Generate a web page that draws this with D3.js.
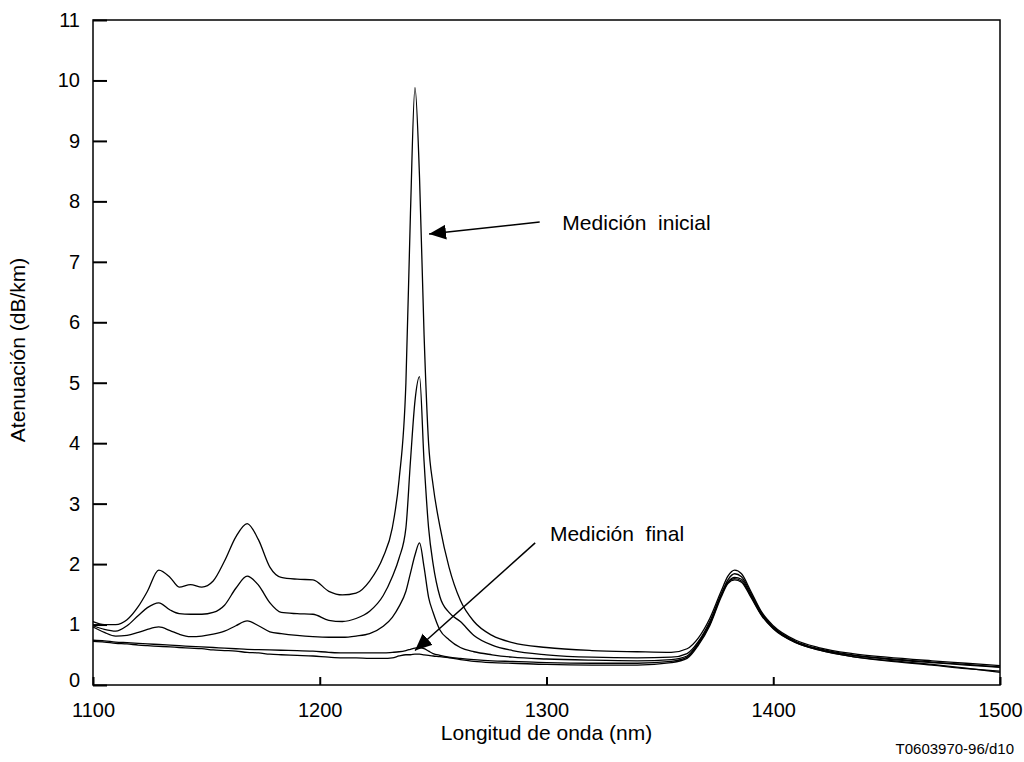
<!DOCTYPE html>
<html lang="es">
<head>
<meta charset="UTF-8"/>
<title>Atenuación vs longitud de onda</title>
<script src="https://d3js.org/d3.v7.min.js"></script>
<style>
	body { margin: 0; background: #fff; }
	text { font-family: "Liberation Sans", Arial, sans-serif; fill: #000; }
</style>
</head>
<body>
<script>
	// Wavelength grid shared by all five measurement curves (nm)
	var wavelengths = [1100,1105,1110,1115,1120,1124,1129,1134,1138,1143,1148,1153,1158,1163,1168,1173,1178,1183,1190,1197,
		1204,1210,1216,1222,1228,1232,1235,1238,1240,1242,1244,1246,1248,1250,1253,1257,1262,1268,1276,1285,
		1300,1320,1340,1355,1362,1367,1372,1377,1380,1383,1386,1390,1395,1400,1410,1420,1435,1450,1470,1485,1500];

	// Attenuation values (dB/km), from first measurement down to final one
	var curve1 = [1.05,1.00,1.00,1.08,1.30,1.55,1.90,1.78,1.62,1.66,1.62,1.72,2.05,2.45,2.67,2.40,1.95,1.78,1.75,1.74,
		1.55,1.49,1.52,1.72,2.12,2.60,3.40,5.00,7.80,9.88,8.40,5.80,4.00,3.30,2.62,1.95,1.40,1.05,0.82,0.70,
		0.62,0.57,0.55,0.54,0.60,0.78,1.10,1.55,1.80,1.90,1.84,1.56,1.20,0.98,0.74,0.62,0.52,0.46,0.40,0.36,0.32];
	var curve2 = [0.98,0.92,0.89,0.98,1.15,1.28,1.36,1.24,1.18,1.17,1.17,1.20,1.32,1.60,1.80,1.65,1.36,1.20,1.18,1.17,
		1.07,1.05,1.10,1.22,1.48,1.79,2.10,2.60,3.70,4.70,5.10,3.70,2.60,2.00,1.46,1.20,1.05,0.82,0.66,0.57,
		0.50,0.46,0.45,0.46,0.52,0.72,1.05,1.50,1.74,1.84,1.79,1.53,1.18,0.96,0.72,0.60,0.50,0.44,0.38,0.34,0.30];
	var curve3 = [0.96,0.87,0.81,0.82,0.87,0.92,0.96,0.90,0.84,0.80,0.81,0.84,0.89,0.98,1.06,0.98,0.88,0.85,0.82,0.80,
		0.79,0.79,0.81,0.85,0.97,1.12,1.30,1.55,1.85,2.15,2.35,1.95,1.45,1.20,0.91,0.75,0.62,0.55,0.50,0.46,
		0.43,0.41,0.40,0.42,0.48,0.70,1.02,1.48,1.70,1.78,1.75,1.50,1.16,0.95,0.71,0.59,0.49,0.43,0.37,0.33,0.29];
	var curve4 = [0.74,0.73,0.71,0.70,0.69,0.68,0.67,0.66,0.65,0.64,0.63,0.62,0.61,0.60,0.59,0.585,0.58,0.575,0.57,0.56,
		0.54,0.53,0.53,0.53,0.53,0.54,0.55,0.57,0.59,0.61,0.62,0.60,0.56,0.52,0.49,0.46,0.44,0.42,0.40,0.39,
		0.37,0.36,0.36,0.39,0.46,0.68,1.00,1.48,1.70,1.76,1.72,1.48,1.15,0.94,0.70,0.58,0.47,0.40,0.33,0.27,0.23];
	var curve5 = [0.72,0.71,0.69,0.68,0.66,0.65,0.64,0.63,0.62,0.61,0.60,0.58,0.57,0.56,0.54,0.53,0.51,0.50,0.49,0.48,
		0.46,0.45,0.45,0.44,0.44,0.45,0.48,0.50,0.50,0.51,0.51,0.50,0.49,0.48,0.47,0.45,0.42,0.39,0.37,0.36,
		0.34,0.33,0.33,0.37,0.44,0.66,0.98,1.45,1.68,1.74,1.70,1.46,1.14,0.93,0.70,0.58,0.47,0.41,0.34,0.28,0.21];

	var curves = [curve1, curve2, curve3, curve4, curve5];

	// Axis ticks
	var xTicks = [1100, 1200, 1300, 1400, 1500];
	var yTicks = [0,1,2,3,4,5,6,7,8,9,10,11];

	// Annotations: [label, text x (nm), text y (dB/km), arrow tail x, tail y, arrow tip x, tip y]
	var notes = [
		["Medición  inicial", 1307, 7.52, 1297, 7.66, 1248.2, 7.46],
		["Medición  final", 1301.5, 2.38, 1295, 2.35, 1242, 0.57]
	];

	//Set the size and margins of the svg
	var w = 1024;
	var h = 762;
	var plotLeft = 93, plotTop = 20, plotRight = 1000, plotBottom = 685;

	var xScale = d3.scaleLinear()
		.domain([1100, 1500])
		.range([plotLeft, plotRight]);

	var yScale = d3.scaleLinear()
		.domain([0, 11])
		.range([plotBottom, plotTop]);

	var svg = d3.select("body")
		.append("svg")
		.attr("width", w)
		.attr("height", h);

	// arrow head
	svg.append("defs")
		.append("marker")
		.attr("id", "head")
		.attr("markerUnits", "userSpaceOnUse")
		.attr("markerWidth", 18)
		.attr("markerHeight", 16)
		.attr("refX", 17)
		.attr("refY", 7.5)
		.attr("orient", "auto")
		.append("path")
		.attr("d", "M0,0 L17,7.5 L0,15 Z")
		.attr("fill", "#000");

	//Draw the curves
	var line = d3.line()
		.x(function(d, i) { return xScale(wavelengths[i]); })
		.y(function(d) { return yScale(d); })
		.curve(d3.curveMonotoneX);

	svg.selectAll("path.curve")
		.data(curves)
		.enter()
		.append("path")
		.attr("class", "curve")
		.attr("d", line)
		.attr("fill", "none")
		.attr("stroke", "#000")
		.attr("stroke-width", 1.3);

	//Axes with inward ticks
	var xAxis = d3.axisBottom(xScale)
		.tickValues(xTicks)
		.tickSize(-8)
		.tickPadding(18)
		.tickFormat(d3.format("d"));

	var yAxis = d3.axisLeft(yScale)
		.tickValues(yTicks)
		.tickSize(-14)
		.tickPadding(13)
		.tickFormat(d3.format("d"));

	var gx = svg.append("g")
		.attr("transform", "translate(0," + plotBottom + ")")
		.call(xAxis);

	var gy = svg.append("g")
		.attr("transform", "translate(" + plotLeft + ",0)")
		.call(yAxis);

	[gx, gy].forEach(function(g) {
		g.select(".domain").remove();
		g.selectAll("line").attr("stroke", "#000").attr("stroke-width", 2);
		g.selectAll("text")
			.attr("font-size", 20)
			.attr("font-family", "'Liberation Sans', Arial, sans-serif")
			.attr("fill", "#000");
	});
	gy.selectAll(".tick text").filter(function(d) { return d === 0; }).attr("dy", "0.05em");

	//Frame round the plot
	svg.append("rect")
		.attr("x", plotLeft)
		.attr("y", plotTop)
		.attr("width", plotRight - plotLeft)
		.attr("height", plotBottom - plotTop)
		.attr("fill", "none")
		.attr("stroke", "#000")
		.attr("stroke-width", 1.5);

	//Annotations with arrows
	notes.forEach(function(n) {
		svg.append("line")
			.attr("x1", xScale(n[3]))
			.attr("y1", yScale(n[4]))
			.attr("x2", xScale(n[5]))
			.attr("y2", yScale(n[6]))
			.attr("stroke", "#000")
			.attr("stroke-width", 1.5)
			.attr("marker-end", "url(#head)");
		svg.append("text")
			.attr("x", xScale(n[1]))
			.attr("y", yScale(n[2]))
			.attr("font-size", 21)
			.style("white-space", "pre")
			.text(n[0]);
	});

	//Axis titles
	svg.append("text")
		.attr("text-anchor", "middle")
		.attr("x", (plotLeft + plotRight) / 2)
		.attr("y", 740)
		.attr("font-size", 21)
		.text("Longitud de onda (nm)");

	svg.append("text")
		.attr("text-anchor", "middle")
		.attr("transform", "translate(25,350) rotate(-90)")
		.attr("font-size", 21)
		.text("Atenuación (dB/km)");

	svg.append("text")
		.attr("text-anchor", "end")
		.attr("x", 1014)
		.attr("y", 754)
		.attr("font-size", 15)
		.text("T0603970-96/d10");
</script>
</body>
</html>
